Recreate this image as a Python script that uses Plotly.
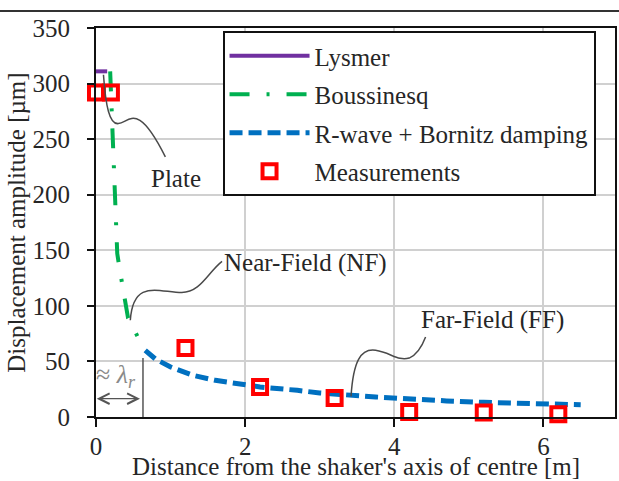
import plotly.graph_objects as go

# Lysmer model (plate region)
lysmer_x = [0.0, 0.15]
lysmer_y = [311, 311]

# Boussinesq near-field solution
bous_x = [0.19, 0.21, 0.235, 0.258, 0.27, 0.285, 0.32, 0.37, 0.43, 0.50, 0.57, 0.63]
bous_y = [311, 276, 221, 188, 168, 147, 132, 113, 89, 80, 70, 63]

# Rayleigh wave with Bornitz damping (far field)
rwave_x = [0.66, 0.8, 1.0, 1.3, 1.6, 1.9, 2.2, 2.7, 3.0, 3.75, 4.2, 4.7, 5.2, 5.7, 6.15, 6.5]
rwave_y = [60, 52, 45, 37.5, 33, 29.5, 27, 24, 21.6, 18, 16, 14.5, 13.2, 12.2, 11.4, 11]

# Measured amplitudes
meas_x = [0.0, 0.2, 1.2, 2.2, 3.2, 4.2, 5.2, 6.2]
meas_y = [292, 292, 62, 27, 17, 4.5, 4, 2.5]

x_ticks = [0, 2, 4, 6]
y_ticks = [0, 50, 100, 150, 200, 250, 300, 350]

FONT = "Liberation Serif"
TXT = "#262626"
GRID = "#d0d0d0"
CONN = "#4a4a4a"

fig = go.Figure()
fig.add_trace(go.Scatter(x=lysmer_x, y=lysmer_y, mode="lines", name="Lysmer",
                         legendgroup="a",
                         line=dict(color="#7030A0", width=4)))
fig.add_trace(go.Scatter(x=bous_x, y=bous_y, mode="lines", name="Boussinesq",
                         legendgroup="b",
                         line=dict(color="#00B050", width=4, dash="20px,17px,3px,17px")))
fig.add_trace(go.Scatter(x=rwave_x, y=rwave_y, mode="lines", name="R-wave + Bornitz damping",
                         legendgroup="c",
                         line=dict(color="#0070C0", width=5, dash="13px,6px")))
fig.add_trace(go.Scatter(x=meas_x, y=meas_y, mode="markers", name="Measurements",
                         legendgroup="d", cliponaxis=False,
                         marker=dict(symbol="square-open", size=14, color="#FF0000",
                                     line=dict(color="#FF0000", width=4))))

# Curved leader lines for the region labels
shapes = [
    dict(type="path", xref="x", yref="y",
         path="M 0.10,308 C 0.13,280 0.18,263 0.30,264 C 0.45,265 0.55,285 0.93,234",
         line=dict(color=CONN, width=1.5)),
    dict(type="path", xref="x", yref="y",
         path="M 0.46,87 C 0.50,125 0.85,112 1.15,112 C 1.40,112 1.50,130 1.69,140",
         line=dict(color=CONN, width=1.5)),
    dict(type="path", xref="x", yref="y",
         path="M 3.42,18.6 C 3.45,50 3.55,62 3.75,60 C 3.95,58 4.05,50 4.20,53 C 4.30,56 4.38,65 4.42,72",
         line=dict(color=CONN, width=1.5)),
    # boundary of the near-field zone (about one Rayleigh wavelength)
    dict(type="line", xref="x", yref="y", x0=0.63, x1=0.63, y0=0, y1=53,
         line=dict(color="#555555", width=1.5)),
    # top frame rule
    dict(type="line", xref="paper", yref="paper", x0=-0.19, x1=1.01, y0=1.0437, y1=1.0437,
         line=dict(color="#333333", width=2)),
]

annotations = [
    dict(x=1.07, y=215, xref="x", yref="y", text="Plate", showarrow=False,
         font=dict(family=FONT, size=25, color=TXT)),
    dict(x=1.69, y=139, xref="x", yref="y", text="Near-Field (NF)", showarrow=False,
         xanchor="left", font=dict(family=FONT, size=25, color=TXT)),
    dict(x=4.33, y=87, xref="x", yref="y", text="Far-Field (FF)", showarrow=False,
         xanchor="left", font=dict(family=FONT, size=25, color=TXT)),
    dict(x=0.27, y=37, xref="x", yref="y", text="≈ <i>λ<sub>r</sub></i>", showarrow=False,
         font=dict(family=FONT, size=26, color="#8a8a8a")),
    # double-headed arrow spanning the near field
    dict(x=0.01, y=16.5, ax=0.61, ay=16.5, xref="x", yref="y", axref="x", ayref="y",
         text="", showarrow=True, arrowside="end+start", arrowhead=5, startarrowhead=5,
         arrowsize=1.6, startarrowsize=1.6, arrowwidth=1.3, arrowcolor="#555555"),
    # axis titles
    dict(x=-0.1536, y=0.5, xref="paper", yref="paper", text="Displacement amplitude [µm]",
         textangle=-90, showarrow=False, xanchor="center", yanchor="middle",
         font=dict(family=FONT, size=25, color=TXT)),
    dict(x=0.5, y=-0.126, xref="paper", yref="paper",
         text="Distance from the shaker's axis of centre [m]",
         showarrow=False, xanchor="center", yanchor="middle",
         font=dict(family=FONT, size=25, color=TXT)),
]

fig.update_layout(
    width=619, height=481,
    margin=dict(l=96, r=2, t=28, b=64),
    paper_bgcolor="white", plot_bgcolor="white",
    font=dict(family=FONT, size=25, color=TXT),
    shapes=shapes, annotations=annotations,
    showlegend=True,
    legend=dict(x=0.2438, y=0.992, xanchor="left", yanchor="top",
                bgcolor="white", bordercolor="#111111", borderwidth=2,
                font=dict(family=FONT, size=25, color=TXT),
                itemwidth=80, tracegroupgap=3),
    xaxis=dict(range=[0, 6.96], tickvals=x_ticks, showgrid=True, gridcolor=GRID, gridwidth=1.5,
               zeroline=False, showline=True, linecolor="#111111", linewidth=2, mirror=True,
               ticks="outside", ticklen=8, tickwidth=2, tickcolor="#111111",
               ticklabelstandoff=-2,
               tickfont=dict(family=FONT, size=25, color=TXT)),
    yaxis=dict(range=[0, 350], tickvals=y_ticks, showgrid=True, gridcolor=GRID, gridwidth=1.5,
               zeroline=False, showline=True, linecolor="#111111", linewidth=2, mirror=True,
               ticks="outside", ticklen=7, tickwidth=2, tickcolor="#111111",
               ticklabelstandoff=12,
               tickfont=dict(family=FONT, size=25, color=TXT)),
)

fig.write_html("out.html")
